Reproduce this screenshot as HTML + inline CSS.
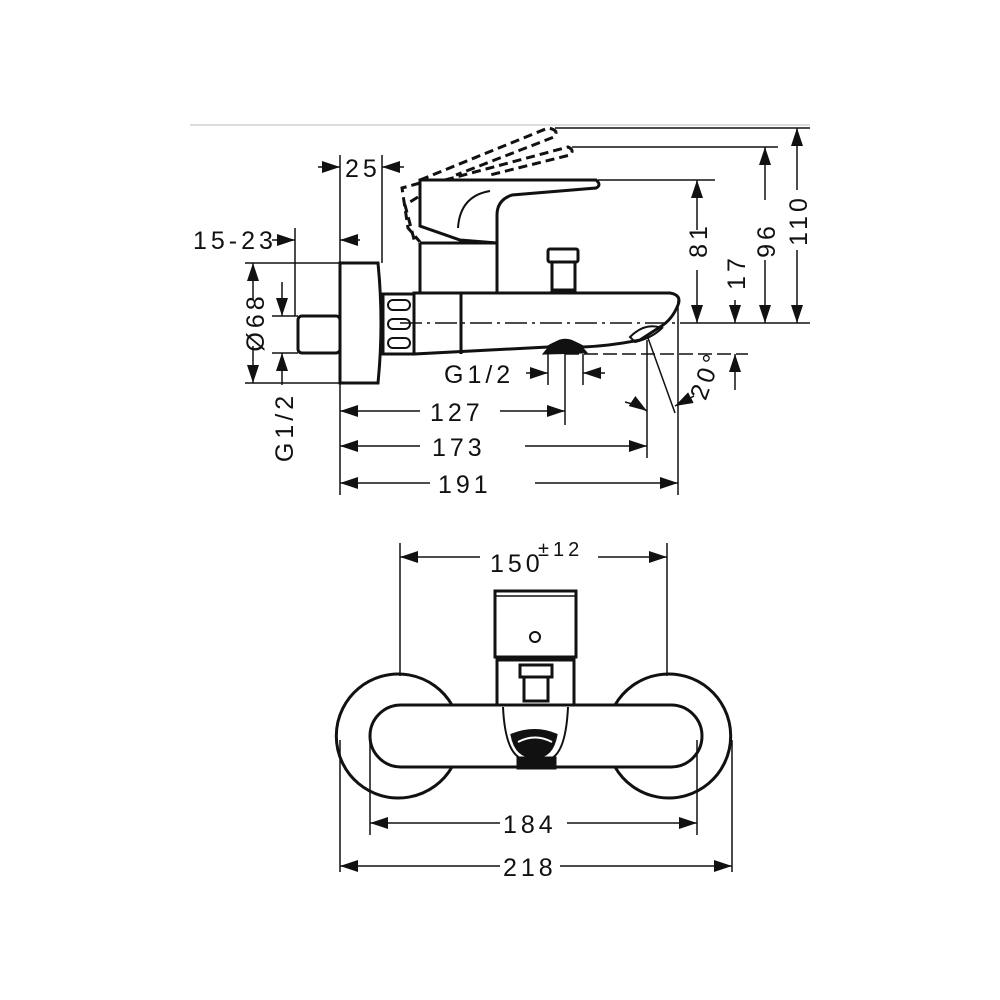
<!DOCTYPE html>
<html><head><meta charset="utf-8"><style>
body{margin:0;background:#fff}
svg{display:block}
text{font-family:"Liberation Sans",sans-serif;font-size:25px;fill:#111;letter-spacing:4px}
</style></head><body>
<svg width="1000" height="1000" viewBox="0 0 1000 1000" xmlns="http://www.w3.org/2000/svg">
<defs>
<marker id="a" viewBox="0 0 18 12" refX="18" refY="6" markerWidth="18" markerHeight="12" markerUnits="userSpaceOnUse" orient="auto">
<path d="M0,0 L18,6 L0,12 Z" fill="#111"/></marker>
</defs>
<line x1="190" y1="125" x2="810" y2="125" stroke="#ddd" stroke-width="2"/>
<g stroke="#111" fill="none" stroke-width="1.5">
<line x1="340" y1="155" x2="340" y2="495"/>
<line x1="382" y1="155" x2="382" y2="263"/>
<line x1="295" y1="228" x2="295" y2="316"/>
<line x1="245" y1="263" x2="340" y2="263"/>
<line x1="245" y1="383" x2="340" y2="383"/>
<line x1="272" y1="316" x2="298" y2="316"/>
<line x1="272" y1="353" x2="298" y2="353"/>
<line x1="555" y1="128" x2="810" y2="128"/>
<line x1="572" y1="147" x2="778" y2="147"/>
<line x1="598" y1="180" x2="715" y2="180"/>
<line x1="680" y1="323" x2="810" y2="323"/>
<line x1="565" y1="354" x2="748" y2="354" stroke-dasharray="14 5"/>
<line x1="548" y1="354" x2="548" y2="385"/>
<line x1="565" y1="354" x2="565" y2="425"/>
<line x1="583" y1="354" x2="583" y2="385"/>
<line x1="647" y1="340" x2="647" y2="458"/>
<line x1="678" y1="300" x2="678" y2="495"/>
<line x1="648" y1="338" x2="675" y2="413"/>
<line x1="400" y1="323" x2="680" y2="323" stroke-dasharray="22 5 3 5"/>
<line x1="318" y1="167" x2="340" y2="167" marker-end="url(#a)"/>
<line x1="404" y1="167" x2="382" y2="167" marker-end="url(#a)"/>
<line x1="272" y1="240" x2="295" y2="240" marker-end="url(#a)"/>
<line x1="360" y1="240" x2="340" y2="240" marker-end="url(#a)"/>
<line x1="253" y1="300" x2="253" y2="263" marker-end="url(#a)"/>
<line x1="253" y1="346" x2="253" y2="383" marker-end="url(#a)"/>
<line x1="282" y1="282" x2="282" y2="316" marker-end="url(#a)"/>
<line x1="282" y1="385" x2="282" y2="353" marker-end="url(#a)"/>
<line x1="526" y1="373" x2="548" y2="373" marker-end="url(#a)"/>
<line x1="605" y1="373" x2="583" y2="373" marker-end="url(#a)"/>
<line x1="420" y1="411" x2="340" y2="411" marker-end="url(#a)"/>
<line x1="500" y1="411" x2="565" y2="411" marker-end="url(#a)"/>
<path d="M625,402 Q638,405 647,411" marker-end="url(#a)"/>
<line x1="420" y1="446" x2="340" y2="446" marker-end="url(#a)"/>
<line x1="525" y1="446" x2="647" y2="446" marker-end="url(#a)"/>
<line x1="430" y1="483" x2="340" y2="483" marker-end="url(#a)"/>
<line x1="535" y1="483" x2="678" y2="483" marker-end="url(#a)"/>
<line x1="697" y1="270" x2="697" y2="323" marker-end="url(#a)"/>
<line x1="697" y1="230" x2="697" y2="180" marker-end="url(#a)"/>
<line x1="735" y1="300" x2="735" y2="323" marker-end="url(#a)"/>
<line x1="735" y1="390" x2="735" y2="354" marker-end="url(#a)"/>
<line x1="765" y1="260" x2="765" y2="323" marker-end="url(#a)"/>
<line x1="765" y1="200" x2="765" y2="147" marker-end="url(#a)"/>
<line x1="797" y1="250" x2="797" y2="323" marker-end="url(#a)"/>
<line x1="797" y1="190" x2="797" y2="128" marker-end="url(#a)"/>
<line x1="694" y1="396" x2="675" y2="406" marker-end="url(#a)"/>
</g>
<g stroke="#111" fill="none" stroke-width="3">
<rect x="298" y="316" width="42" height="37" rx="4"/>
<path d="M340,263 H378 Q384,323 378,383 H340 Z"/>
<rect x="383" y="294" width="31" height="60"/>
<rect x="388" y="300" width="22" height="10" rx="5" stroke-width="2"/>
<rect x="388" y="319" width="22" height="10" rx="5" stroke-width="2"/>
<rect x="388" y="338" width="22" height="10" rx="5" stroke-width="2"/>
<path d="M414,293 H670 Q682,295 678,305 Q672,320 660,327 L640,340 Q610,346 583,347 Q565,336 548,347 L414,354 Z"/>
<line x1="461" y1="293" x2="461" y2="354"/>
<path d="M630,337 Q645,322 662,328 Q652,338 635,342 Z" stroke-width="2"/>
<path d="M545,353 Q565,328 585,352 Z" fill="#111"/>
<rect x="548" y="249" width="30" height="13" rx="2"/>
<rect x="552" y="262" width="23" height="28"/>
<path d="M420,243 H497 V293 M420,243 V293"/>
<path d="M420,180 H596 Q602,185 596,188 L512,195 Q497,200 497,215 V243 L460,240 L420,226 Z"/>
<path d="M458,228 Q460,196 490,191" stroke-width="2"/>
</g>
<g stroke="#111" fill="none" stroke-width="3" stroke-dasharray="9 5">
<path d="M420,180 L548,128 Q560,130 554,137 L456,175"/>
<path d="M445,180 L568,147 Q575,150 570,155 L490,175"/>
<path d="M420,183 L402,188 L408,228 L420,242"/>
<path d="M418,197 L405,205 L415,243"/>
</g>
<text x="345" y="177">25</text>
<text x="193" y="249">15-23</text>
<text x="444" y="383">G1/2</text>
<text x="430" y="421">127</text>
<text x="432" y="456">173</text>
<text x="438" y="493">191</text>
<text transform="translate(264,322) rotate(-90)" text-anchor="middle">Ø68</text>
<text transform="translate(293,427) rotate(-90)" text-anchor="middle">G1/2</text>
<text transform="translate(707,240) rotate(-90)" text-anchor="middle">81</text>
<text transform="translate(745,272) rotate(-90)" text-anchor="middle">17</text>
<text transform="translate(775,240) rotate(-90)" text-anchor="middle">96</text>
<text transform="translate(807,220) rotate(-90)" text-anchor="middle">110</text>
<text transform="translate(714,378) rotate(-70)" text-anchor="middle">20°</text>

<g stroke="#111" fill="none" stroke-width="1.5">
<line x1="400" y1="543" x2="400" y2="676"/>
<line x1="667" y1="543" x2="667" y2="676"/>
<line x1="480" y1="557" x2="400" y2="557" marker-end="url(#a)"/>
<line x1="598" y1="557" x2="667" y2="557" marker-end="url(#a)"/>
<line x1="370" y1="740" x2="370" y2="835"/>
<line x1="697" y1="740" x2="697" y2="835"/>
<line x1="340" y1="740" x2="340" y2="872"/>
<line x1="732" y1="740" x2="732" y2="872"/>
<line x1="500" y1="823" x2="370" y2="823" marker-end="url(#a)"/>
<line x1="567" y1="823" x2="697" y2="823" marker-end="url(#a)"/>
<line x1="500" y1="866" x2="340" y2="866" marker-end="url(#a)"/>
<line x1="560" y1="866" x2="732" y2="866" marker-end="url(#a)"/>
</g>
<g stroke="#111" fill="none" stroke-width="3">
<path d="M452,705 A62,62 0 1,0 452,767"/>
<path d="M615,705 A62,62 0 1,1 615,767"/>
<rect x="370" y="705" width="332" height="62" rx="31"/>
<rect x="495" y="591" width="81" height="66"/>
<line x1="495" y1="596" x2="576" y2="596" stroke-width="1.5"/>
<circle cx="535" cy="637" r="5" stroke-width="2"/>
<rect x="497" y="660" width="77" height="45"/>
<rect x="520" y="665" width="32" height="12"/>
<rect x="524" y="677" width="24" height="24"/>
<path d="M503,707 Q505,750 520,758 M568,707 Q566,750 552,758" stroke-width="2"/>
<path d="M512,735 Q535,726 556,735 Q552,757 535,757 Q516,757 512,735 Z" fill="#111"/>
<path d="M518,742 Q535,733 552,742" stroke="#fff" stroke-width="2"/>
<rect x="518" y="758" width="37" height="10" fill="#111"/>
</g>
<text x="490" y="572">150</text>
<text x="538" y="556" style="font-size:20px">±12</text>
<text x="503" y="833">184</text>
<text x="503" y="876">218</text>
</svg>
</body></html>
